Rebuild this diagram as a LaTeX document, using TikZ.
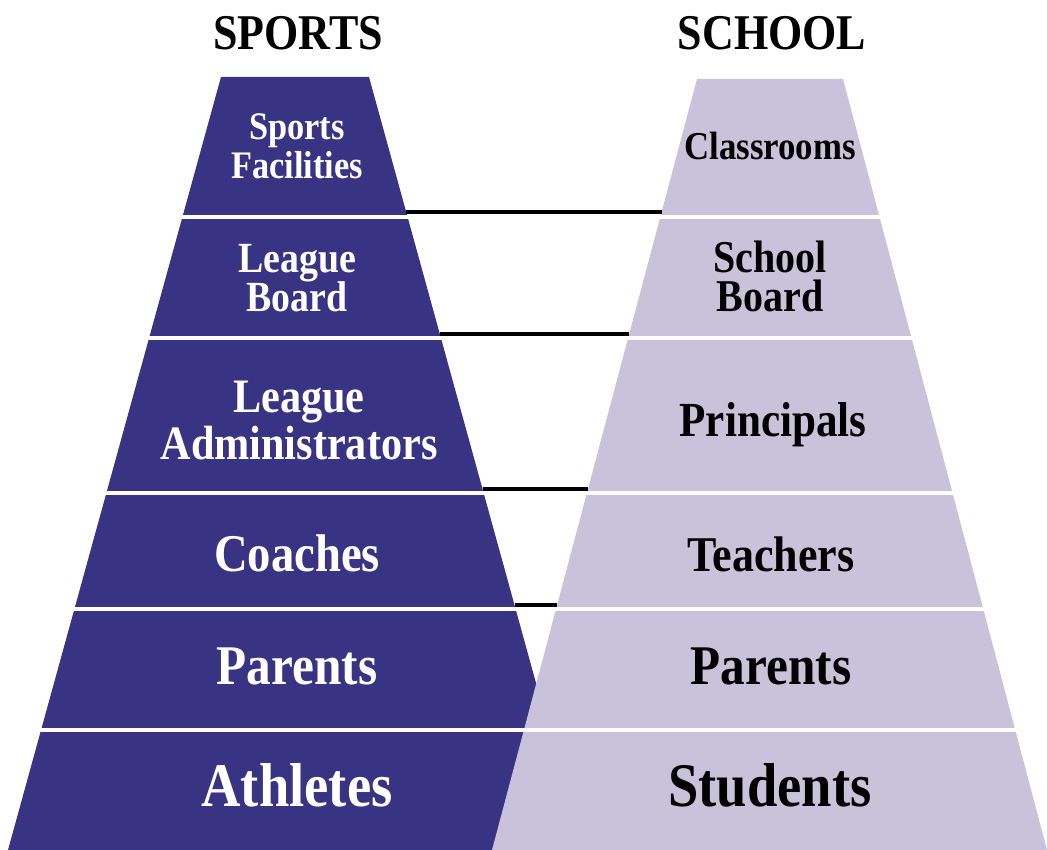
\documentclass[tikz,border=0pt]{standalone}
\usepackage{fontspec}
\setmainfont{Liberation Serif}[FakeStretch=0.88]
\definecolor{sportsblue}{RGB}{57,51,131}
\definecolor{schoollilac}{RGB}{201,194,219}

\begin{document}
\begin{tikzpicture}[x=1pt,y=1pt,
    sporttxt/.style={text=white,align=center,anchor=base,inner sep=0pt},
    schooltxt/.style={text=black,align=center,anchor=base,inner sep=0pt},
    divider/.style={white,line width=4pt},
    link/.style={black,line width=4pt}]
                \useasboundingbox (0,0) rectangle (1047,850);

                % Draw pyramids
                \fill[sportsblue] (8,0) -- (221,773) -- (369,773) -- (582,0) -- cycle;
                \fill[schoollilac] (492,0) -- (697,771) -- (843,771) -- (1047,0) -- cycle;

                % White dividers between levels
                \foreach \lev in {633,512,357,241,120}
                    \draw[divider] (0,\lev) -- (1047,\lev);

                % Headings above pyramids
                \node[schooltxt,font=\fontsize{50}{50}\selectfont\bfseries] (sports) at (298,800) {SPORTS};
                \node[schooltxt,font=\fontsize{50}{50}\selectfont\bfseries] (school) at (772,800) {SCHOOL};

                % Sports levels (left pyramid), base is the last line
                \node[sporttxt,font=\fontsize{39}{39.5}\selectfont\bfseries] (facil) at (297,671) {Sports\\Facilities};
                \node[sporttxt,font=\fontsize{43}{39.5}\selectfont\bfseries] (lboard) at (297,538) {League\\Board};
                \node[sporttxt,font=\fontsize{48}{47}\selectfont\bfseries] (ladmin) at (299,390) {League\\Administrators};
                \node[sporttxt,font=\fontsize{53}{53}\selectfont\bfseries] (coach) at (297,278) {Coaches};
                \node[sporttxt,font=\fontsize{56}{56}\selectfont\bfseries] (sparent) at (297,165) {Parents};
                \node[sporttxt,font=\fontsize{62}{62}\selectfont\bfseries] (athl) at (297,43) {Athletes};

                % School levels (right pyramid)
                \node[schooltxt,font=\fontsize{39.5}{39.5}\selectfont\bfseries] (classr) at (770,690) {Classrooms};
                \node[schooltxt,font=\fontsize{45.5}{39.5}\selectfont\bfseries] (sboard) at (770,538) {School\\Board};
                \node[schooltxt,font=\fontsize{49}{49}\selectfont\bfseries] (princ) at (773,413) {Principals};
                \node[schooltxt,font=\fontsize{50}{50}\selectfont\bfseries] (teach) at (771,278) {Teachers};
                \node[schooltxt,font=\fontsize{56}{56}\selectfont\bfseries] (cparent) at (771,165) {Parents};
                \node[schooltxt,font=\fontsize{62}{62}\selectfont\bfseries] (stud) at (770,43) {Students};

                % Link ends on the facing edges
                \coordinate (facil-e) at (406.2,638);
                \coordinate (classr-w) at (661.6,638);
                \coordinate (lboard-e) at (439.8,516);
                \coordinate (sboard-w) at (629.2,516);
                \coordinate (ladmin-e) at (482.5,361);
                \coordinate (princ-w) at (587.9,361);
                \coordinate (coach-e) at (514.5,245);
                \coordinate (teach-w) at (557.1,245);

                % Links between matching levels
                \draw[link] (facil-e) -- (classr-w);
                \draw[link] (lboard-e) -- (sboard-w);
                \draw[link] (ladmin-e) -- (princ-w);
                \draw[link] (coach-e) -- (teach-w);
            \end{tikzpicture}
\end{document}
